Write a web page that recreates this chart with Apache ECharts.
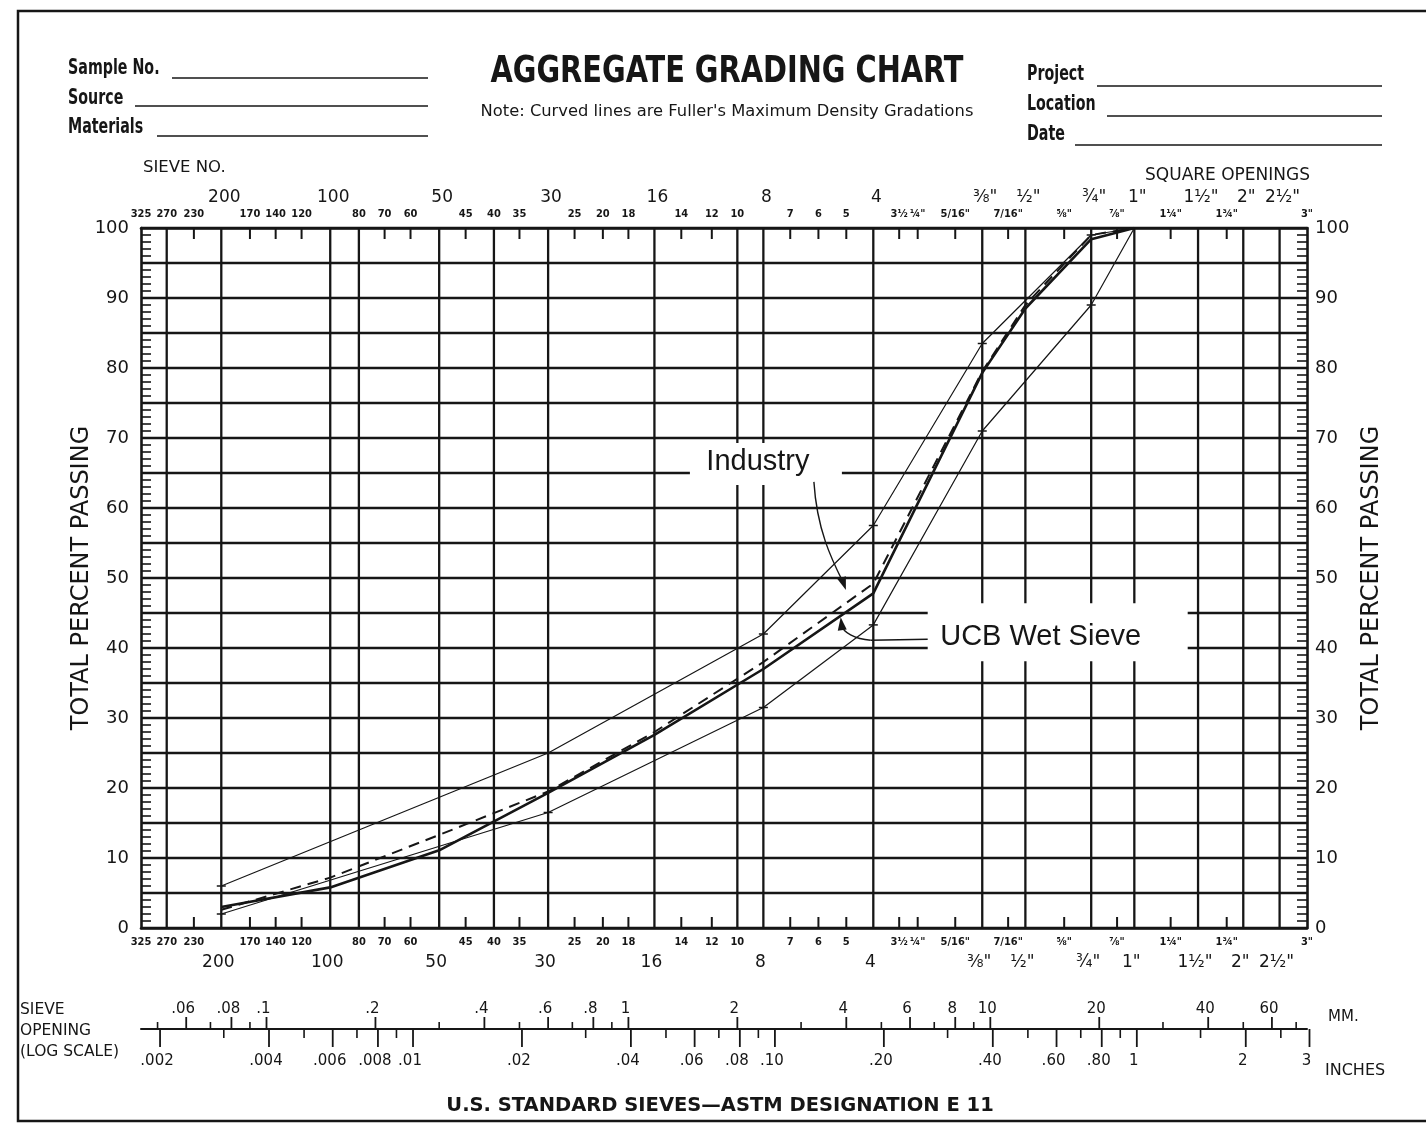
<!DOCTYPE html>
<html>
<head>
<meta charset="utf-8">
<title>Aggregate Grading Chart</title>
<script src="https://cdn.jsdelivr.net/npm/echarts@6.0.0/dist/echarts.min.js"></script>
<style>
  html, body { margin: 0; padding: 0; background: #fff; }
  #chart { width: 1426px; height: 1134px; }
</style>
</head>
<body>
<div id="chart"></div>
<script>
// sieve openings are in mm, passing values in percent
var limitSizes = [0.075, 0.6, 2.36, 4.75, 9.5, 19, 25];
var upperLimit = [6, 25, 42, 57.5, 83.5, 99, 100];
var lowerLimit = [2, 16.5, 31.5, 43.3, 71, 89, 100];

var testSizes = [0.075, 0.15, 0.3, 0.6, 1.18, 2.36, 4.75, 9.5, 12.5, 19, 25];
var industry = [2.6, 7.2, 13.3, 19.5, 28, 38, 49.2, 79.5, 89, 99, 100];
var ucbWetSieve = [3.0, 5.8, 11.1, 19.3, 27.6, 37, 47.8, 79.3, 88.5, 98.4, 100];

// sieve scale (top and bottom of the plot)
var bigSieveLabels = ['200', '100', '50', '30', '16', '8', '4', '⅜"', '½"', '¾"', '1"', '1½"', '2"', '2½"'];
var bigSieveSizes = [0.075, 0.15, 0.3, 0.6, 1.18, 2.36, 4.75, 9.5, 12.5, 19, 25, 37.5, 50, 63];
var smallSieveLabels = ['325', '270', '230', '170', '140', '120', '80', '70', '60', '45', '40', '35', '25', '20', '18',
  '14', '12', '10', '7', '6', '5', '3½', '¼"', '5/16"', '7/16"', '⅝"', '⅞"', '1¼"', '1¾"', '3"'];
var smallSieveSizes = [0.045, 0.053, 0.063, 0.09, 0.106, 0.125, 0.18, 0.212, 0.25, 0.355, 0.425, 0.5, 0.71, 0.85, 1.0,
  1.4, 1.7, 2.0, 2.8, 3.35, 4.0, 5.6, 6.3, 8.0, 11.2, 16, 22.4, 31.5, 45, 75];
var gridSieveSizes = [0.053, 0.075, 0.15, 0.18, 0.3, 0.425, 0.6, 1.18, 2.0, 2.36, 4.75, 9.5, 12.5, 19, 25, 37.5, 50, 63];
var tickSieveSizes = [0.063, 0.09, 0.106, 0.125, 0.212, 0.25, 0.355, 0.5, 0.71, 0.85, 1.0, 1.4, 1.7, 2.8, 3.35, 4.0,
  5.6, 6.3, 8.0, 11.2, 16, 22.4, 31.5, 45];

// log scale strip under the chart
var mmScaleLabels = ['.06', '.08', '.1', '.2', '.4', '.6', '.8', '1', '2', '4', '6', '8', '10', '20', '40', '60'];
var mmScaleValues = [0.06, 0.08, 0.1, 0.2, 0.4, 0.6, 0.8, 1, 2, 4, 6, 8, 10, 20, 40, 60];
var mmMinorValues = [0.05, 0.07, 0.09, 0.3, 0.5, 0.7, 0.9, 3, 5, 7, 9, 30, 50, 70];
var inchScaleLabels = ['.002', '.004', '.006', '.008', '.01', '.02', '.04', '.06', '.08', '.10', '.20', '.40', '.60', '.80', '1', '2', '3'];
var inchScaleValues = [0.002, 0.004, 0.006, 0.008, 0.01, 0.02, 0.04, 0.06, 0.08, 0.1, 0.2, 0.4, 0.6, 0.8, 1, 2, 3];
var inchMinorValues = [0.003, 0.005, 0.007, 0.009, 0.03, 0.05, 0.07, 0.09, 0.3, 0.5, 0.7, 0.9, 1.5, 2.5];
var MM_PER_INCH = 25.4;

var INK = '#161616';
var COND = '"Liberation Sans Narrow", "DejaVu Sans Condensed", sans-serif';
var SANS = '"DejaVu Sans", sans-serif';
var HELV = '"Liberation Sans", Arial, sans-serif';

function pairs(xs, ys) {
  return xs.map(function (x, i) { return [x, ys[i]]; });
}
function col(xs) {
  return xs.map(function (x) { return [x, 0]; });
}
function txt(text, x, y, font, align, sx) {
  return {
    type: 'text', x: x, y: y, scaleX: sx || 1,
    style: { text: text, font: font, fill: INK, textAlign: align || 'left', align: align || 'left',
      textVerticalAlign: 'middle', verticalAlign: 'middle' }
  };
}
function rule(x1, x2, y) {
  return { type: 'line', shape: { x1: x1, y1: y, x2: x2, y2: y }, style: { stroke: INK, lineWidth: 1.6 } };
}
function arrowHead(tx, ty, dx, dy) {
  var len = Math.sqrt(dx * dx + dy * dy);
  dx /= len; dy /= len;
  var bx = tx - dx * 13, by = ty - dy * 13;
  return {
    type: 'polygon',
    shape: { points: [[tx, ty], [bx - dy * 4.5, by + dx * 4.5], [bx + dy * 4.5, by - dx * 4.5]] },
    style: { fill: INK }
  };
}

// vertical sieve lines across the plot
function renderGridLine(params, api) {
  var top = api.coord([api.value(0), 100]);
  var bot = api.coord([api.value(0), 0]);
  return { type: 'line', shape: { x1: top[0], y1: top[1], x2: bot[0], y2: bot[1] },
    style: { stroke: INK, lineWidth: 2.3 } };
}
function renderShortTick(params, api) {
  var top = api.coord([api.value(0), 100]);
  var bot = api.coord([api.value(0), 0]);
  return { type: 'group', children: [
    { type: 'line', shape: { x1: top[0], y1: top[1], x2: top[0], y2: top[1] + 11 }, style: { stroke: INK, lineWidth: 2 } },
    { type: 'line', shape: { x1: bot[0], y1: bot[1], x2: bot[0], y2: bot[1] - 11 }, style: { stroke: INK, lineWidth: 2 } }
  ] };
}
function renderSmallSieve(params, api) {
  var top = api.coord([api.value(0), 100]);
  var bot = api.coord([api.value(0), 0]);
  var t = smallSieveLabels[params.dataIndex];
  var f = 'bold 11px ' + COND;
  return { type: 'group', children: [txt(t, top[0], top[1] - 14, f, 'center'), txt(t, bot[0], bot[1] + 14, f, 'center')] };
}
function renderBigSieve(params, api) {
  var top = api.coord([api.value(0), 100]);
  var bot = api.coord([api.value(0), 0]);
  var t = bigSieveLabels[params.dataIndex];
  var f = '17px ' + SANS;
  return { type: 'group', children: [txt(t, top[0] + 3, top[1] - 30, f, 'center'), txt(t, bot[0] - 3, bot[1] + 35, f, 'center')] };
}

// bottom log strip
function renderMmMajor(params, api) {
  var p = api.coord([api.value(0), 0]);
  return { type: 'group', children: [
    { type: 'line', shape: { x1: p[0], y1: p[1], x2: p[0], y2: p[1] - 12 }, style: { stroke: INK, lineWidth: 1.8 } },
    txt(mmScaleLabels[params.dataIndex], p[0] - 3, p[1] - 20, '15px ' + SANS, 'center')
  ] };
}
function renderMmMinor(params, api) {
  var p = api.coord([api.value(0), 0]);
  return { type: 'line', shape: { x1: p[0], y1: p[1], x2: p[0], y2: p[1] - 7 }, style: { stroke: INK, lineWidth: 1.6 } };
}
function renderInchMajor(params, api) {
  var p = api.coord([api.value(0) * MM_PER_INCH, 0]);
  return { type: 'group', children: [
    { type: 'line', shape: { x1: p[0], y1: p[1], x2: p[0], y2: p[1] + 18 }, style: { stroke: INK, lineWidth: 1.8 } },
    txt(inchScaleLabels[params.dataIndex], p[0] - 3, p[1] + 32, '15px ' + SANS, 'center')
  ] };
}
function renderInchMinor(params, api) {
  var p = api.coord([api.value(0) * MM_PER_INCH, 0]);
  return { type: 'line', shape: { x1: p[0], y1: p[1], x2: p[0], y2: p[1] + 9 }, style: { stroke: INK, lineWidth: 1.6 } };
}

// hand-written notes, anchored on the arrow tips
function renderIndustryNote(params, api) {
  var p = api.coord([api.value(0), api.value(1)]);
  var x = p[0], y = p[1];
  return { type: 'group', children: [
    { type: 'rect', shape: { x: x - 156, y: y - 147, width: 152, height: 42 }, style: { fill: '#fff' } },
    txt('Industry', x - 88, y - 128, '29px ' + HELV, 'center'),
    { type: 'bezierCurve', shape: { x1: x - 32, y1: y - 108, cpx1: x - 29, cpy1: y - 60, cpx2: x - 14, cpy2: y - 30, x2: x - 3, y2: y - 8 },
      style: { stroke: INK, lineWidth: 1.4, fill: null } },
    arrowHead(x, y, 0.35, 1)
  ] };
}
function renderUcbNote(params, api) {
  var p = api.coord([api.value(0), api.value(1)]);
  var x = p[0], y = p[1];
  return { type: 'group', children: [
    { type: 'rect', shape: { x: x + 87, y: y - 14, width: 260, height: 58 }, style: { fill: '#fff' } },
    txt('UCB Wet Sieve', x + 200, y + 20, '29px ' + HELV, 'center'),
    { type: 'line', shape: { x1: x + 87, y1: y + 22, x2: x + 30, y2: y + 23 }, style: { stroke: INK, lineWidth: 1.4 } },
    { type: 'bezierCurve', shape: { x1: x + 30, y1: y + 23, cpx1: x + 14, cpy1: y + 22, cpx2: x + 2, cpy2: y + 15, x2: x + 1, y2: y + 8 },
      style: { stroke: INK, lineWidth: 1.4, fill: null } },
    arrowHead(x, y, -0.12, -1)
  ] };
}

var chart = echarts.init(document.getElementById('chart'));

var option = {
  backgroundColor: '#fff',
  animation: false,
  grid: [
    { left: 141, right: 119, top: 228, bottom: 206 },
    { left: 141, right: 119, top: 1027, height: 2 }
  ],
  xAxis: [
    { gridIndex: 0, type: 'log', logBase: 10, min: 0.045, max: 75, position: 'bottom',
      axisLine: { show: true, onZero: false, lineStyle: { color: INK, width: 2.6 } },
      axisTick: { show: false }, axisLabel: { show: false }, splitLine: { show: false } },
    { gridIndex: 0, type: 'log', logBase: 10, min: 0.045, max: 75, position: 'top',
      axisLine: { show: true, onZero: false, lineStyle: { color: INK, width: 2.6 } },
      axisTick: { show: false }, axisLabel: { show: false }, splitLine: { show: false } },
    { gridIndex: 1, type: 'log', logBase: 10, min: 0.045, max: 75,
      axisLine: { show: true, onZero: false, lineStyle: { color: INK, width: 2 } },
      axisTick: { show: false }, axisLabel: { show: false }, splitLine: { show: false } }
  ],
  yAxis: [
    { gridIndex: 0, type: 'value', min: 0, max: 100, interval: 5, position: 'left',
      axisLine: { show: true, lineStyle: { color: INK, width: 2.6 } },
      axisTick: { show: true, inside: true, length: 10, lineStyle: { color: INK, width: 1.6 } },
      minorTick: { show: true, splitNumber: 5, length: 10, lineStyle: { color: INK, width: 1.6 } },
      splitLine: { show: true, lineStyle: { color: INK, width: 2.3 } },
      axisLabel: { color: INK, fontSize: 18, fontFamily: SANS, margin: 12,
        formatter: function (v) { return v % 10 === 0 ? String(v) : ''; } },
      name: 'TOTAL PERCENT PASSING', nameLocation: 'middle', nameGap: 47, nameRotate: 90, nameMoveOverlap: false,
      nameTextStyle: { color: INK, fontSize: 24, fontFamily: SANS } },
    { gridIndex: 0, type: 'value', min: 0, max: 100, interval: 5, position: 'right',
      axisLine: { show: true, lineStyle: { color: INK, width: 2.6 } },
      axisTick: { show: true, inside: true, length: 10, lineStyle: { color: INK, width: 1.6 } },
      minorTick: { show: true, splitNumber: 5, length: 10, lineStyle: { color: INK, width: 1.6 } },
      splitLine: { show: false },
      axisLabel: { color: INK, fontSize: 18, fontFamily: SANS, margin: 8,
        formatter: function (v) { return v % 10 === 0 ? String(v) : ''; } },
      name: 'TOTAL PERCENT PASSING', nameLocation: 'middle', nameGap: 52, nameRotate: 90,
      nameTextStyle: { color: INK, fontSize: 24, fontFamily: SANS } },
    { gridIndex: 1, type: 'value', min: 0, max: 1, show: false }
  ],
  series: [
    { type: 'custom', name: 'sieve lines', xAxisIndex: 0, yAxisIndex: 0, z: 1, clip: false, silent: true,
      renderItem: renderGridLine, data: col(gridSieveSizes) },
    { type: 'custom', name: 'sieve ticks', xAxisIndex: 0, yAxisIndex: 0, z: 1, clip: false, silent: true,
      renderItem: renderShortTick, data: col(tickSieveSizes) },
    { type: 'custom', name: 'small sieve labels', xAxisIndex: 0, yAxisIndex: 0, clip: false, silent: true,
      renderItem: renderSmallSieve, data: col(smallSieveSizes) },
    { type: 'custom', name: 'big sieve labels', xAxisIndex: 0, yAxisIndex: 0, clip: false, silent: true,
      renderItem: renderBigSieve, data: col(bigSieveSizes) },
    { type: 'line', name: 'Upper limit', xAxisIndex: 0, yAxisIndex: 0, z: 3,
      data: pairs(limitSizes, upperLimit), symbol: 'rect', symbolSize: [9, 1.5],
      lineStyle: { color: INK, width: 1.2 }, itemStyle: { color: INK } },
    { type: 'line', name: 'Lower limit', xAxisIndex: 0, yAxisIndex: 0, z: 3,
      data: pairs(limitSizes, lowerLimit), symbol: 'rect', symbolSize: [9, 1.5],
      lineStyle: { color: INK, width: 1.2 }, itemStyle: { color: INK } },
    { type: 'line', name: 'Industry', xAxisIndex: 0, yAxisIndex: 0, z: 3,
      data: pairs(testSizes, industry), symbol: 'none',
      lineStyle: { color: INK, width: 2, type: [11, 7] } },
    { type: 'line', name: 'UCB Wet Sieve', xAxisIndex: 0, yAxisIndex: 0, z: 4,
      data: pairs(testSizes, ucbWetSieve), symbol: 'none',
      lineStyle: { color: INK, width: 2.6 } },
    { type: 'custom', name: 'industry note', xAxisIndex: 0, yAxisIndex: 0, z: 10, clip: false, silent: true,
      renderItem: renderIndustryNote, data: [[3.99, 48.3]] },
    { type: 'custom', name: 'ucb note', xAxisIndex: 0, yAxisIndex: 0, z: 10, clip: false, silent: true,
      renderItem: renderUcbNote, data: [[3.86, 44.4]] },
    { type: 'custom', name: 'mm scale', xAxisIndex: 2, yAxisIndex: 2, clip: false, silent: true,
      renderItem: renderMmMajor, data: col(mmScaleValues) },
    { type: 'custom', name: 'mm minor', xAxisIndex: 2, yAxisIndex: 2, clip: false, silent: true,
      renderItem: renderMmMinor, data: col(mmMinorValues) },
    { type: 'custom', name: 'inch scale', xAxisIndex: 2, yAxisIndex: 2, clip: false, silent: true,
      renderItem: renderInchMajor, data: col(inchScaleValues) },
    { type: 'custom', name: 'inch minor', xAxisIndex: 2, yAxisIndex: 2, clip: false, silent: true,
      renderItem: renderInchMinor, data: col(inchMinorValues) }
  ],
  graphic: [
    { type: 'rect', shape: { x: 18, y: 11, width: 1430, height: 1110 }, style: { fill: null, stroke: INK, lineWidth: 2.5 } },
    txt('Sample No.', 68, 68, 'bold 22px ' + COND, 'left', 0.72),
    rule(172, 428, 78),
    txt('Source', 68, 98, 'bold 22px ' + COND, 'left', 0.72),
    rule(135, 428, 106),
    txt('Materials', 68, 127, 'bold 22px ' + COND, 'left', 0.72),
    rule(157, 428, 136),
    txt('AGGREGATE GRADING CHART', 727, 72, 'bold 37px ' + COND, 'center', 0.866),
    txt('Note: Curved lines are Fuller\'s Maximum Density Gradations', 727, 112, '16px ' + SANS, 'center', 1.02),
    txt('Project', 1027, 74, 'bold 22px ' + COND, 'left', 0.72),
    rule(1097, 1382, 86),
    txt('Location', 1027, 104, 'bold 22px ' + COND, 'left', 0.72),
    rule(1107, 1382, 116),
    txt('Date', 1027, 134, 'bold 22px ' + COND, 'left', 0.72),
    rule(1075, 1382, 145),
    txt('SIEVE NO.', 143, 168, '16.5px ' + SANS),
    txt('SQUARE OPENINGS', 1310, 176, '17px ' + SANS, 'right'),
    txt('SIEVE', 20, 1010, '15.5px ' + SANS),
    txt('OPENING', 20, 1031, '15.5px ' + SANS),
    txt('(LOG SCALE)', 20, 1052, '15.5px ' + SANS),
    txt('MM.', 1328, 1017, '15px ' + SANS),
    txt('INCHES', 1325, 1071, '16px ' + SANS),
    txt('U.S. STANDARD SIEVES\u2014ASTM DESIGNATION E 11', 720, 1106, 'bold 19.5px ' + SANS, 'center')
  ]
};

chart.setOption(option);
</script>
</body>
</html>
